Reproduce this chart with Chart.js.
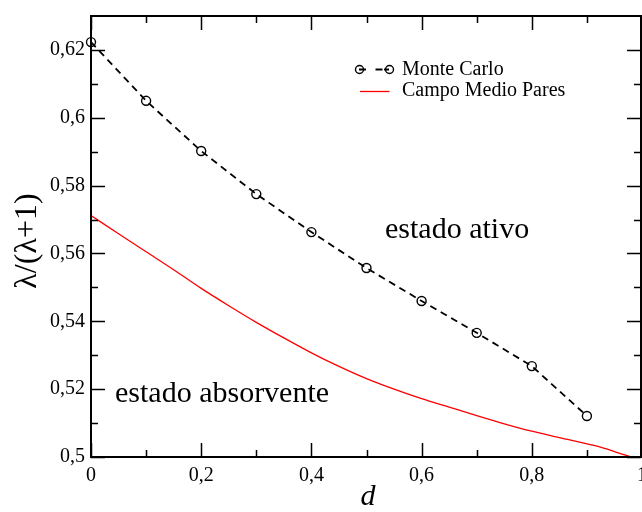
<!DOCTYPE html>
<html>
<head>
<meta charset="utf-8">
<script src="https://cdn.jsdelivr.net/npm/chart.js@4/dist/chart.umd.min.js"></script>
<style>
  html, body { margin: 0; padding: 0; background: #fff; }
  #wrap { width: 642px; height: 512px; }
</style>
</head>
<body>
<div id="wrap"><canvas id="c" width="642" height="512"></canvas></div>
<script>
// Monte Carlo estimates of lambda/(lambda+1) at each diffusion rate d
const mcD   = [0, 0.1, 0.2, 0.3, 0.4, 0.5, 0.6, 0.7, 0.8, 0.9];
const mcLam = [0.6223, 0.6050, 0.5902, 0.5775, 0.5663, 0.5557, 0.5460, 0.5366, 0.5268, 0.5121];

// Pair mean-field critical line
const pairD   = [0, 0.05, 0.1, 0.15, 0.2, 0.25, 0.3, 0.35, 0.4, 0.45, 0.5, 0.55, 0.6, 0.65, 0.7, 0.75, 0.8, 0.85, 0.9, 0.92, 0.95, 0.98];
const pairLam = [0.5712, 0.5658, 0.5605, 0.5552, 0.5497, 0.5446, 0.5397, 0.5351, 0.5307, 0.5267, 0.5231, 0.5200, 0.5172, 0.5147, 0.5122, 0.5098, 0.5076, 0.5057, 0.5039, 0.5031, 0.5016, 0.5000];

// Axis ticks
const xMajor = [0, 0.2, 0.4, 0.6, 0.8, 1];
const xMinor = [0.1, 0.3, 0.5, 0.7, 0.9];
const yMajor = [0.5, 0.52, 0.54, 0.56, 0.58, 0.6, 0.62];
const yMinor = [0.51, 0.53, 0.55, 0.57, 0.59, 0.61];

const FONT = '"Liberation Serif", "Times New Roman", serif';
const fmt = v => String(+v.toFixed(2)).replace('.', ',');

const axesPlugin = {
  id: 'axesPlugin',
  afterDatasetsDraw(chart) {
    const { ctx, chartArea: a, scales: { x, y } } = chart;
    ctx.save();
    ctx.strokeStyle = '#000';
    ctx.fillStyle = '#000';

    // inward tick marks on all four sides
    ctx.lineWidth = 1.5;
    const MAJ = 14, MIN = 7;
    const xt = (v, len) => {
      const px = Math.min(Math.round(x.getPixelForValue(v)) + 0.5, a.right - 1);
      ctx.beginPath();
      ctx.moveTo(px, a.bottom); ctx.lineTo(px, a.bottom - len);
      ctx.moveTo(px, a.top); ctx.lineTo(px, a.top + len);
      ctx.stroke();
    };
    const yt = (v, len) => {
      const py = Math.round(y.getPixelForValue(v)) + 0.5;
      ctx.beginPath();
      ctx.moveTo(a.left, py); ctx.lineTo(a.left + len, py);
      ctx.moveTo(a.right - 1, py); ctx.lineTo(a.right - 1 - len, py);
      ctx.stroke();
    };
    xMajor.forEach(v => xt(v, MAJ));
    xMinor.forEach(v => xt(v, MIN));
    yMajor.forEach(v => yt(v, MAJ));
    yMinor.forEach(v => yt(v, MIN));

    // frame
    ctx.lineWidth = 2;
    ctx.strokeRect(a.left, a.top, a.right - 1 - a.left, a.bottom - a.top);

    // tick labels
    ctx.font = '20px ' + FONT;
    ctx.textBaseline = 'middle';
    ctx.textAlign = 'right';
    yMajor.forEach(v => ctx.fillText(fmt(v), a.left - 6, y.getPixelForValue(v)));
    ctx.textAlign = 'center';
    xMajor.forEach(v => ctx.fillText(fmt(v), x.getPixelForValue(v), a.bottom + 19));

    // axis titles
    ctx.font = 'italic 30px ' + FONT;
    ctx.fillText('d', 368, 497);
    ctx.save();
    ctx.translate(28, 241);
    ctx.rotate(-Math.PI / 2);
    ctx.font = '32px ' + FONT;
    ctx.fillText('\u03bb/(\u03bb+1)', 0, 0);
    ctx.restore();

    // region labels
    ctx.font = '30px ' + FONT;
    ctx.textAlign = 'left';
    ctx.textBaseline = 'alphabetic';
    ctx.fillText('estado ativo', 385, 238);
    ctx.fillText('estado absorvente', 115, 402);

    // legend
    ctx.font = '20px ' + FONT;
    ctx.textBaseline = 'middle';
    ctx.fillText('Monte Carlo', 402, 69.5);
    ctx.fillText('Campo Medio Pares', 402, 91);
    ctx.lineWidth = 1.8;
    ctx.beginPath();
    ctx.moveTo(359, 69.5); ctx.lineTo(366, 69.5);
    ctx.moveTo(375.5, 69.5); ctx.lineTo(382.5, 69.5);
    ctx.moveTo(384, 69.5); ctx.lineTo(389, 69.5);
    ctx.stroke();
    ctx.lineWidth = 1.4;
    [359.5, 389.5].forEach(cx => {
      ctx.beginPath();
      ctx.arc(cx, 69.5, 4, 0, Math.PI * 2);
      ctx.stroke();
    });
    ctx.strokeStyle = '#ff0000';
    ctx.lineWidth = 1.3;
    ctx.beginPath();
    ctx.moveTo(360, 91.5); ctx.lineTo(389.5, 91.5);
    ctx.stroke();

    ctx.restore();
  }
};

new Chart(document.getElementById('c'), {
  type: 'line',
  data: {
    datasets: [
      {
        label: 'Monte Carlo',
        data: mcD.map((d, i) => ({ x: d, y: mcLam[i] })),
        borderColor: '#000',
        borderWidth: 1.8,
        borderDash: [7, 5],
        tension: 0,
        fill: false,
        pointStyle: 'circle',
        pointRadius: 4.5,
        pointBorderWidth: 1.4,
        pointBorderColor: '#000',
        pointBackgroundColor: 'rgba(0,0,0,0)',
        clip: false
      },
      {
        label: 'Campo Medio Pares',
        data: pairD.map((d, i) => ({ x: d, y: pairLam[i] })),
        borderColor: '#ff0000',
        borderWidth: 1.3,
        cubicInterpolationMode: 'monotone',
        fill: false,
        pointRadius: 0
      }
    ]
  },
  options: {
    responsive: false,
    animation: false,
    devicePixelRatio: 1,
    layout: { autoPadding: false, padding: { left: 91, top: 16, right: 0, bottom: 55 } },
    plugins: { legend: { display: false }, tooltip: { enabled: false } },
    scales: {
      x: { type: 'linear', min: 0, max: 1, display: false },
      y: { type: 'linear', min: 0.5, max: 0.63, display: false }
    }
  },
  plugins: [axesPlugin]
});
</script>
</body>
</html>
